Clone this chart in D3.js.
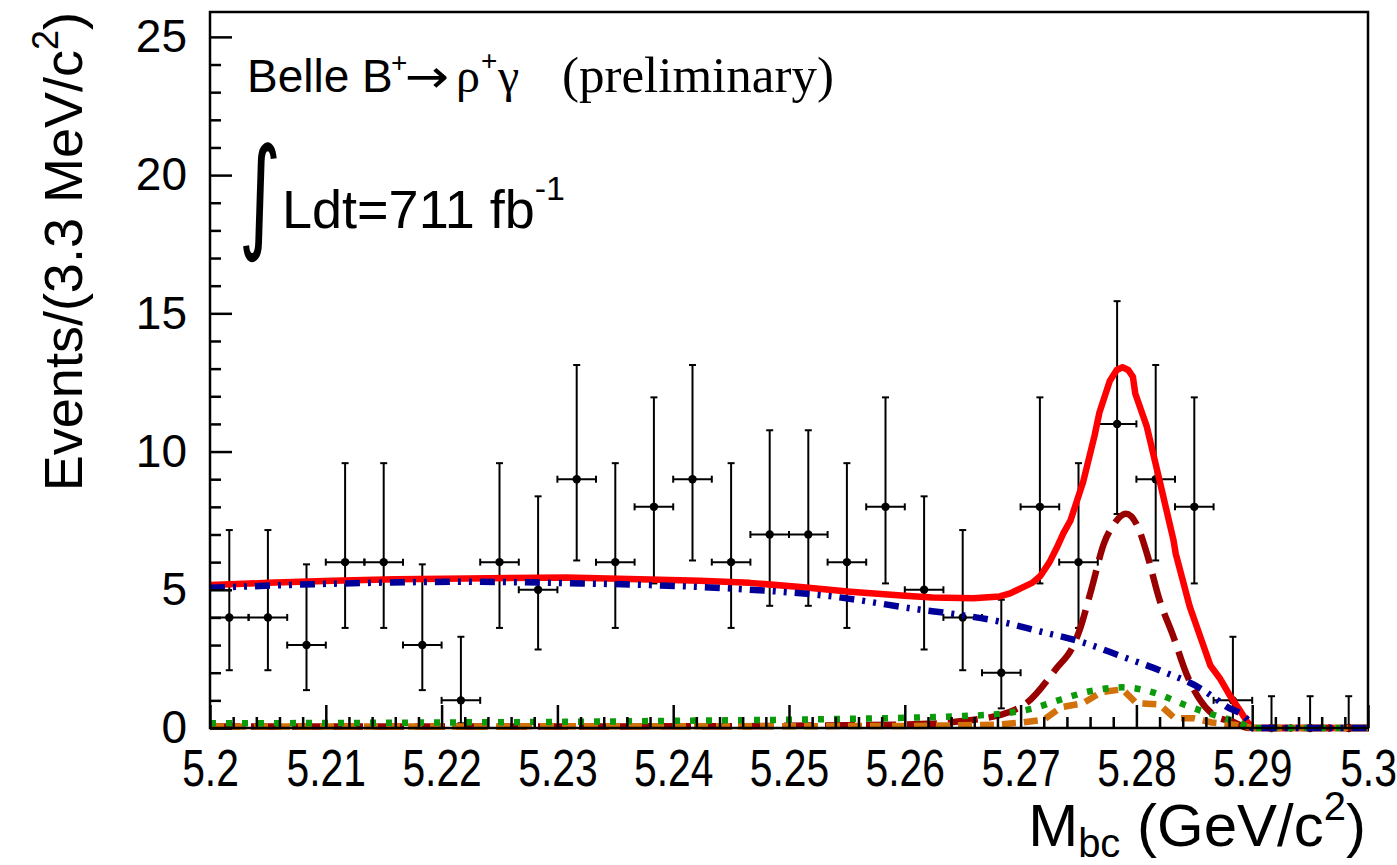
<!DOCTYPE html>
<html>
<head>
<meta charset="utf-8">
<script src="https://cdn.jsdelivr.net/npm/d3@7"></script>
<style>
  body { margin: 0; background: #fff; }
  svg { display: block; font-family: "Liberation Sans", Arial, Helvetica, sans-serif; }
  text { fill: #000; }
</style>
</head>
<body>
<svg id="chart" width="1397" height="865"></svg>
<script>
// ---- binning and observed counts (30 bins of 3.33 MeV) ----
const massMin = 5.2, massMax = 5.3, nBins = 30;
const counts = [4, 4, 3, 6, 6, 3, 1, 6, 5, 9, 6, 8, 9, 6, 7, 7, 6, 8, 5, 4, 2, 8, 6, 11, 9, 8, 1, 0, 0, 0];
const errLow = [1.91, 1.91, 1.63, 2.38, 2.38, 1.63, 0.83, 2.38, 2.16, 2.94, 2.38, 2.77, 2.94, 2.38, 2.58, 2.58, 2.38, 2.77, 2.16, 1.91, 1.29, 2.77, 2.38, 3.26, 2.94, 2.77, 0.83, 0, 0, 0];
const errHigh = [3.16, 3.16, 2.92, 3.58, 3.58, 2.92, 2.30, 3.58, 3.38, 4.13, 3.58, 3.96, 4.13, 3.58, 3.77, 3.77, 3.58, 3.96, 3.38, 3.16, 2.64, 3.96, 3.58, 4.44, 4.13, 3.96, 2.30, 1.15, 1.15, 1.15];

// ---- fit curves: [Mbc, events per bin] ----
const totalFit = [
  [5.2000, 5.17], [5.2050, 5.25], [5.2106, 5.33], [5.2160, 5.38], [5.2222, 5.41], [5.2308, 5.44],
  [5.2380, 5.37], [5.2423, 5.33], [5.2466, 5.25], [5.2510, 5.10], [5.2553, 4.93], [5.2600, 4.78],
  [5.2624, 4.72], [5.2659, 4.69], [5.2682, 4.76], [5.2691, 4.87], [5.2700, 5.05], [5.2710, 5.25],
  [5.2717, 5.50], [5.2725, 6.00], [5.2731, 6.50], [5.2737, 7.05], [5.2743, 7.50], [5.2754, 8.90],
  [5.2764, 10.6], [5.2768, 11.4], [5.2777, 12.55], [5.2783, 12.95], [5.2788, 13.05], [5.2793, 12.95],
  [5.2797, 12.7], [5.2799, 12.1], [5.2809, 10.9], [5.2820, 8.95], [5.2832, 6.8], [5.2834, 6.3],
  [5.2846, 4.4], [5.2856, 3.2], [5.2864, 2.25], [5.2872, 1.8], [5.2881, 1.15], [5.2890, 0.6],
  [5.2896, 0.2], [5.2901, 0], [5.3000, 0]
];
const continuumBkg = [
  [5.2000, 5.07], [5.2106, 5.22], [5.2222, 5.29], [5.2308, 5.24], [5.2380, 5.17], [5.2460, 5.02],
  [5.2535, 4.77], [5.2610, 4.30], [5.2648, 4.09], [5.2682, 3.85], [5.2717, 3.49], [5.2752, 3.12],
  [5.2788, 2.58], [5.2823, 2.04], [5.2855, 1.44], [5.2878, 0.77], [5.2896, 0.29], [5.2900, 0], [5.3000, 0]
];
const signalPdf = [
  [5.2000, 0.05], [5.2400, 0.06], [5.2550, 0.10], [5.2620, 0.15], [5.2650, 0.25], [5.2691, 0.59],
  [5.2705, 0.90], [5.2731, 2.16], [5.2745, 2.94], [5.2750, 3.43], [5.2761, 5.0], [5.2772, 6.68],
  [5.2781, 7.4], [5.2791, 7.75], [5.2801, 7.3], [5.2809, 6.32], [5.2820, 4.63], [5.2832, 3.3],
  [5.2843, 1.98], [5.2855, 1.01], [5.2869, 0.41], [5.2883, 0.23], [5.2897, 0], [5.3000, 0]
];
const peakingBkgA = [
  [5.2000, 0.17], [5.2100, 0.18], [5.2200, 0.20], [5.2300, 0.22], [5.2400, 0.26], [5.2500, 0.30],
  [5.2600, 0.37], [5.2650, 0.43], [5.2690, 0.55], [5.2708, 0.68], [5.2734, 1.02], [5.2760, 1.33],
  [5.2788, 1.47], [5.2815, 1.28], [5.2841, 0.85], [5.2867, 0.47], [5.2890, 0.17], [5.2900, 0], [5.3000, 0]
];
const peakingBkgB = [
  [5.2000, 0.05], [5.2600, 0.07], [5.2680, 0.12], [5.2702, 0.20], [5.2720, 0.30], [5.2735, 0.75],
  [5.2754, 0.90], [5.2770, 1.30], [5.2788, 1.40], [5.2800, 0.90], [5.2820, 0.85], [5.2833, 0.35],
  [5.2850, 0.35], [5.2865, 0.20], [5.2885, 0.12], [5.2900, 0], [5.3000, 0]
];

// ---- axis ticks ----
const xMajorTicks = [5.2, 5.21, 5.22, 5.23, 5.24, 5.25, 5.26, 5.27, 5.28, 5.29, 5.3];
const xTickLabels = ["5.2", "5.21", "5.22", "5.23", "5.24", "5.25", "5.26", "5.27", "5.28", "5.29", "5.3"];
const yMajorTicks = [0, 5, 10, 15, 20, 25];
const yTickLabels = ["0", "5", "10", "15", "20", "25"];

const svg = d3.select("#chart");
const plot = { left: 210, right: 1368, top: 12, bottom: 728 };

const x = d3.scaleLinear().domain([massMin, massMax]).range([plot.left, plot.right]);
const y = d3.scaleLinear().domain([0, 25.9]).range([plot.bottom, plot.top]);

const binWidth = (massMax - massMin) / nBins;
const centers = d3.range(nBins).map(i => massMin + (i + 0.5) * binWidth);

// ---- data points with asymmetric Poisson errors ----
const gData = svg.append("g").attr("stroke", "#000").attr("stroke-width", 2);
counts.forEach((n, i) => {
  const cx = x(centers[i]);
  const cy = y(n);
  const x0 = x(centers[i] - binWidth / 2), x1 = x(centers[i] + binWidth / 2);
  const yLo = y(n - errLow[i]), yHi = y(n + errHigh[i]);
  gData.append("line").attr("x1", x0).attr("x2", x1).attr("y1", cy).attr("y2", cy);
  gData.append("line").attr("x1", x0).attr("x2", x0).attr("y1", cy - 3.5).attr("y2", cy + 3.5);
  gData.append("line").attr("x1", x1).attr("x2", x1).attr("y1", cy - 3.5).attr("y2", cy + 3.5);
  gData.append("line").attr("x1", cx).attr("x2", cx).attr("y1", yLo).attr("y2", yHi);
  gData.append("line").attr("x1", cx - 3.5).attr("x2", cx + 3.5).attr("y1", yHi).attr("y2", yHi);
  if (errLow[i] > 0) gData.append("line").attr("x1", cx - 3.5).attr("x2", cx + 3.5).attr("y1", yLo).attr("y2", yLo);
  gData.append("circle").attr("cx", cx).attr("cy", cy).attr("r", 4.2).attr("fill", "#000").attr("stroke", "none");
});

// ---- fit curves ----
const lineLinear = d3.line().x(d => x(d[0])).y(d => y(d[1])).curve(d3.curveLinear);
const lineSmooth = d3.line().x(d => x(d[0])).y(d => y(d[1])).curve(d3.curveMonotoneX);

function drawCurve(data, gen, color, dash) {
  svg.append("path")
    .datum(data)
    .attr("d", gen)
    .attr("fill", "none")
    .attr("stroke", color)
    .attr("stroke-width", 6.5)
    .attr("stroke-linejoin", "round")
    .attr("stroke-dasharray", dash);
}
drawCurve(totalFit, lineLinear, "#ff0000", null);
drawCurve(signalPdf, lineSmooth, "#990000", "30,11");
drawCurve(peakingBkgB, lineLinear, "#d2700a", "14,8");
drawCurve(peakingBkgA, lineSmooth, "#0a9a0a", "6,10");
drawCurve(continuumBkg, lineSmooth, "#000099", "15,8,3,8,3,8");

// ---- axes ----
const xMinor = d3.range(0, 51).map(i => massMin + i * 0.002).filter(v => !xMajorTicks.some(t => Math.abs(t - v) < 1e-9));
const yMinor = d3.range(0, 26).filter(v => v % 5 !== 0);

const gx = svg.append("g").attr("transform", `translate(0,${plot.bottom})`)
  .call(d3.axisBottom(x).tickValues(xMajorTicks).tickSize(-23).tickPadding(22)
    .tickFormat((d, i) => xTickLabels[i]));
const gxm = svg.append("g").attr("transform", `translate(0,${plot.bottom})`)
  .call(d3.axisBottom(x).tickValues(xMinor).tickSize(-11).tickFormat(""));
const gy = svg.append("g").attr("transform", `translate(${plot.left},0)`)
  .call(d3.axisLeft(y).tickValues(yMajorTicks).tickSize(-22).tickPadding(23)
    .tickFormat((d, i) => yTickLabels[i]));
const gym = svg.append("g").attr("transform", `translate(${plot.left},0)`)
  .call(d3.axisLeft(y).tickValues(yMinor).tickSize(-11).tickFormat(""));

[gx, gxm, gy, gym].forEach(g => {
  g.attr("font-family", null).attr("font-size", null);
  g.select(".domain").remove();
  g.selectAll(".tick line").attr("stroke", "#000").attr("stroke-width", 2.5);
  g.selectAll(".tick text").style("font-size", "46px").attr("fill", "#000");
});
// x labels are set in a condensed face
gx.selectAll(".tick text").style("font-size", "51px").attr("transform", "scale(0.8,1)");

// frame
svg.append("rect")
  .attr("x", plot.left).attr("y", plot.top)
  .attr("width", plot.right - plot.left).attr("height", plot.bottom - plot.top)
  .attr("fill", "none").attr("stroke", "#000").attr("stroke-width", 2.5);

// ---- axis titles ----
const xt = svg.append("text").attr("x", plot.right - 2).attr("y", 846)
  .attr("text-anchor", "end").style("font-size", "60px");
xt.append("tspan").text("M");
xt.append("tspan").style("font-size", "40px").attr("dy", 11).text("bc");
xt.append("tspan").attr("dy", -11).text(" (GeV/c");
xt.append("tspan").style("font-size", "40px").attr("dy", -26).text("2");
xt.append("tspan").attr("dy", 26).text(")");

const yt = svg.append("text")
  .attr("transform", `translate(82,${plot.top}) rotate(-90)`)
  .attr("text-anchor", "end").style("font-size", "54px");
yt.append("tspan").text("Events/(3.3 MeV/c");
yt.append("tspan").style("font-size", "36px").attr("dy", -24).text("2");
yt.append("tspan").attr("dy", 24).text(")");

// ---- labels ----
const serif = "'Liberation Serif', 'Times New Roman', serif";
const gl = svg.append("g");
gl.append("text").attr("x", 247).attr("y", 92).style("font-size", "46px").text("Belle B");
gl.append("text").attr("x", 391).attr("y", 72).style("font-size", "28px").text("+");
gl.append("text").attr("x", 405).attr("y", 92).style("font-size", "46px")
  .style("font-family", "'DejaVu Sans', sans-serif")
  .attr("transform", "translate(405,0) scale(1.15,1) translate(-405,0)").text("→");
gl.append("text").attr("x", 456).attr("y", 92).style("font-size", "48px")
  .style("font-family", serif).text("ρ");
gl.append("text").attr("x", 481).attr("y", 70).style("font-size", "28px").text("+");
gl.append("text").attr("x", 498).attr("y", 92).style("font-size", "48px")
  .style("font-family", serif).text("γ");
gl.append("text").attr("x", 562).attr("y", 92).style("font-size", "51px")
  .style("font-family", serif).text("(preliminary)");

// integral sign, narrowed and stretched to the height of the luminosity line
gl.append("text").attr("transform", "translate(238.5,236) scale(0.7,1.05)")
  .style("font-size", "118px").style("font-family", "'DejaVu Sans', sans-serif").text("∫");
const t2 = gl.append("text").attr("x", 282).attr("y", 228).style("font-size", "54px");
t2.append("tspan").text("Ldt=711 fb");
t2.append("tspan").style("font-size", "34px").attr("dy", -28).text("-1");
</script>
</body>
</html>
